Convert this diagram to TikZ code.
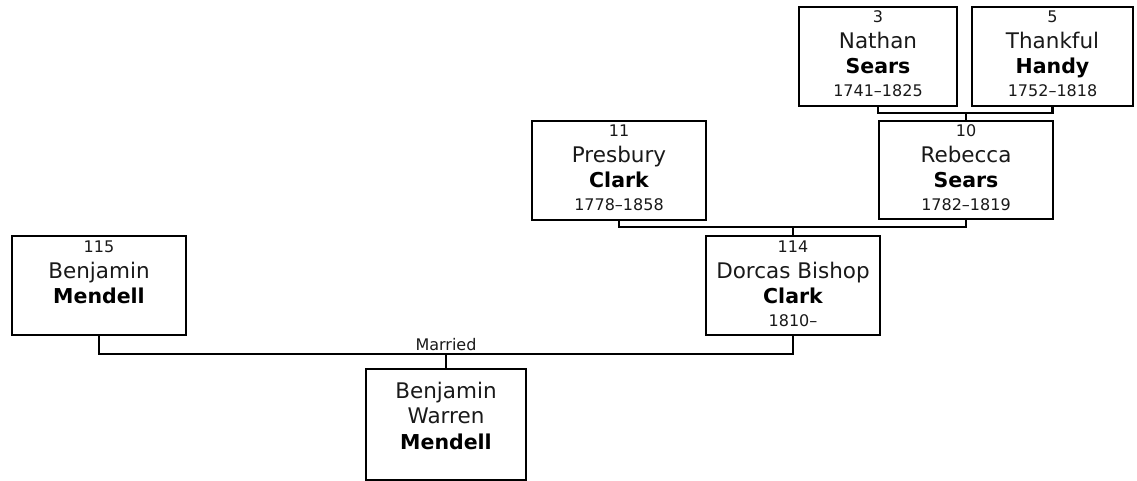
\documentclass[tikz,border=0pt]{standalone}
\usepackage{fontspec}
\setmainfont{DejaVu Sans}
\usetikzlibrary{calc}
\tikzset{
  pbox/.style={draw=black, line width=2.4pt, rectangle, inner sep=0pt, outer sep=0pt},
  smalltxt/.style={anchor=base, inner sep=0pt, font=\fontsize{16}{19}\selectfont, text=black!90},
  nametxt/.style={anchor=base, inner sep=0pt, font=\fontsize{21.5}{25}\selectfont, text=black!90},
  surtxt/.style={anchor=base, inner sep=0pt, font=\fontsize{20.5}{24}\selectfont\bfseries, text=black},
  link/.style={draw=black, line width=2.4pt}
}
% #1 name, #2 left, #3 top, #4 right, #5 bottom, #6 number, #7 first, #8 last, #9 dates
\newcommand\personbox[9]{%
  \node[pbox, minimum width={(#4-#2)*1pt}, minimum height={(#5-#3)*1pt}] (#1) at ({(#2+#4)/2},{(#3+#5)/2}) {};
  \node[smalltxt] (#1-num) at ($(#1.north)+(0,16)$) {#6};
  \node[nametxt] (#1-first) at ($(#1.north)+(0,42)$) {#7};
  \node[surtxt] (#1-last) at ($(#1.north)+(0,67)$) {#8};
  \node[smalltxt] (#1-dates) at ($(#1.north)+(0,90)$) {#9};
}
\begin{document}
\begin{tikzpicture}[x=1pt,y=-1pt]
\useasboundingbox (0,0) rectangle (1137,481);
\personbox{n3}{799}{7}{957}{106}{3}{Nathan}{Sears}{1741–1825}
\personbox{n5}{972}{7}{1133}{106}{5}{Thankful}{Handy}{1752–1818}
\personbox{n11}{532}{121}{706}{220}{11}{Presbury}{Clark}{1778–1858}
\personbox{n10}{879}{121}{1053}{219}{10}{Rebecca}{Sears}{1782–1819}
\personbox{n115}{12}{236}{186}{335}{115}{Benjamin}{Mendell}{}
\personbox{n114}{706}{236}{880}{335}{114}{Dorcas Bishop}{Clark}{1810–}
% child
\node[pbox, minimum width=160pt, minimum height=111pt] (c) at (446,424.5) {};
\node[nametxt] (c-first) at ($(c.north)+(0,29)$) {Benjamin};
\node[nametxt] (c-mid) at ($(c.north)+(0,54)$) {Warren};
\node[surtxt] (c-last) at ($(c.north)+(0,80)$) {Mendell};
% connectors
\coordinate (m1) at (966,113);
\draw[link] (n3.south) |- (m1) -| (n5.south);
\draw[link] (m1) -- (n10.north);
\coordinate (m2) at (793,227);
\draw[link] (n11.south) |- (m2) -| (n10.south);
\draw[link] (m2) -- (n114.north);
\coordinate (m3) at (446,354);
\draw[link] (n115.south) |- (m3) -| (n114.south);
\draw[link] (m3) -- (c.north);
\node[smalltxt] (married) at (446,350) {Married};
\end{tikzpicture}
\end{document}
